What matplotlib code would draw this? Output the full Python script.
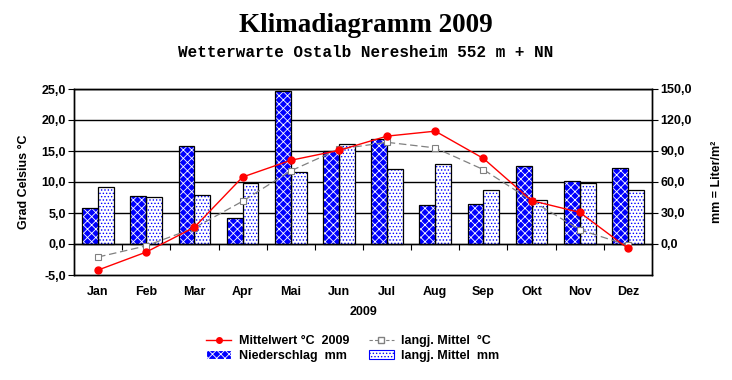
import numpy as np
import matplotlib.pyplot as plt
from matplotlib.patches import Patch
from matplotlib.lines import Line2D
from matplotlib.ticker import FuncFormatter

# Daten 2009
monate = ['Jan', 'Feb', 'Mar', 'Apr', 'Mai', 'Jun', 'Jul', 'Aug', 'Sep', 'Okt', 'Nov', 'Dez']
temp_2009 = [-4.2, -1.3, 2.7, 10.8, 13.5, 15.1, 17.4, 18.2, 13.8, 7.0, 5.1, -0.7]
temp_mittel = [-2.1, -0.3, 2.6, 6.9, 11.8, 15.3, 16.4, 15.5, 12.0, 7.0, 2.3, -0.2]
nieder_2009 = [34.5, 46.2, 94.5, 24.9, 147.7, 90.0, 101.3, 37.4, 38.4, 75.2, 60.6, 73.2]
nieder_mittel = [54.8, 45.2, 47.1, 59.3, 69.3, 96.5, 72.3, 77.1, 52.0, 42.3, 59.3, 52.0]

plt.rcParams['hatch.linewidth'] = 0.6
komma = FuncFormatter(lambda v, p: f"{v:.1f}".replace('.', ','))
fett = dict(family='Liberation Sans', weight='bold', size=9)

fig = plt.figure(figsize=(7.32, 3.80), dpi=100)
ax = fig.add_axes([74 / 732, 105 / 380, 578 / 732, 186 / 380])
ax2 = ax.twinx()
ax.set_zorder(2)
ax.patch.set_visible(False)

x = np.arange(len(monate))
b = 0.33

# Niederschlag 2009: blau/weiss kariert
ax2.bar(x - b / 2, nieder_2009, b, facecolor='#0000ff', hatch='xxxx', edgecolor='white', linewidth=0, zorder=2)
ax2.bar(x - b / 2, nieder_2009, b, fill=False, edgecolor='black', linewidth=0.9, zorder=3)
# langj. Mittel: weiss mit blauen Punkten
ax2.bar(x + b / 2, nieder_mittel, b, facecolor='white', hatch='.....', edgecolor='#0000ff', linewidth=0, zorder=2)
ax2.bar(x + b / 2, nieder_mittel, b, fill=False, edgecolor='black', linewidth=0.9, zorder=3)

ax.plot(x, temp_mittel, color='#808080', linestyle=(0, (6, 3)), linewidth=0.9,
        marker='s', markersize=4, markerfacecolor='white', markeredgecolor='#808080', markeredgewidth=0.8)
ax.plot(x, temp_2009, color='red', linewidth=1.0, marker='o', markersize=5)

ax.set_xlim(-0.5, 11.5)
ax.set_ylim(-5, 25)
ax2.set_ylim(-30, 150)
ax.set_yticks(np.arange(-5, 26, 5))
ax2.set_yticks(np.arange(0, 151, 30))
ax.yaxis.set_major_formatter(komma)
ax2.yaxis.set_major_formatter(komma)

ax2.grid(axis='y', color='black', linewidth=1.0)
ax2.set_axisbelow(True)

ax.set_xticks(x)
ax.set_xticklabels(monate, **fett)
ax.tick_params(axis='x', length=0, pad=8)
for lab in ax.get_yticklabels():
    lab.set(**fett)
for lab in ax2.get_yticklabels():
    lab.set(**fett)
ax.tick_params(axis='y', length=4, width=0.8, pad=2)
ax2.tick_params(axis='y', length=4, width=0.8, pad=2)

# Striche an der 0-Linie
sek = ax.secondary_xaxis(5 / 30)
sek.set_xticks(np.arange(-0.5, 12, 1))
sek.tick_params(axis='x', length=4, width=0.8, labelbottom=False)
sek.spines['bottom'].set_linewidth(1.0)

for a in (ax, ax2):
    for s in a.spines.values():
        s.set_linewidth(1.0)

ax.set_ylabel('Grad Celsius °C', labelpad=8, **fett)
ax2.set_ylabel('mm = Liter/m²', labelpad=14, **fett)
ax.set_xlabel('2009', labelpad=6, **fett)

fig.text(0.5, 0.932, 'Klimadiagramm 2009', ha='center', va='center',
         family='Liberation Serif', weight='bold', size=19.5)
fig.text(0.5, 0.862, 'Wetterwarte Ostalb Neresheim 552 m + NN', ha='center', va='center',
         family='Liberation Mono', weight='bold', size=11.5)

handles = [
    Line2D([], [], color='red', marker='o', markersize=4, linewidth=1.0),
    Patch(facecolor='#0000ff', hatch='xxxx', edgecolor='white', linewidth=0.8),
    Line2D([], [], color='#808080', linestyle=(0, (3, 2)), marker='s', markersize=4,
           markerfacecolor='white', linewidth=0.8),
    Patch(facecolor='white', hatch='.....', edgecolor='#0000ff', linewidth=0.8),
]
labels = ['Mittelwert °C  2009', 'Niederschlag  mm', 'langj. Mittel  °C', 'langj. Mittel  mm']
leg = fig.legend(handles, labels, loc='center', bbox_to_anchor=(0.482, 0.083), ncol=2, frameon=False,
                 prop=fett, handlelength=2.0, handletextpad=0.6, columnspacing=1.6, labelspacing=0.2)

fig.savefig('out.png', dpi=100)
